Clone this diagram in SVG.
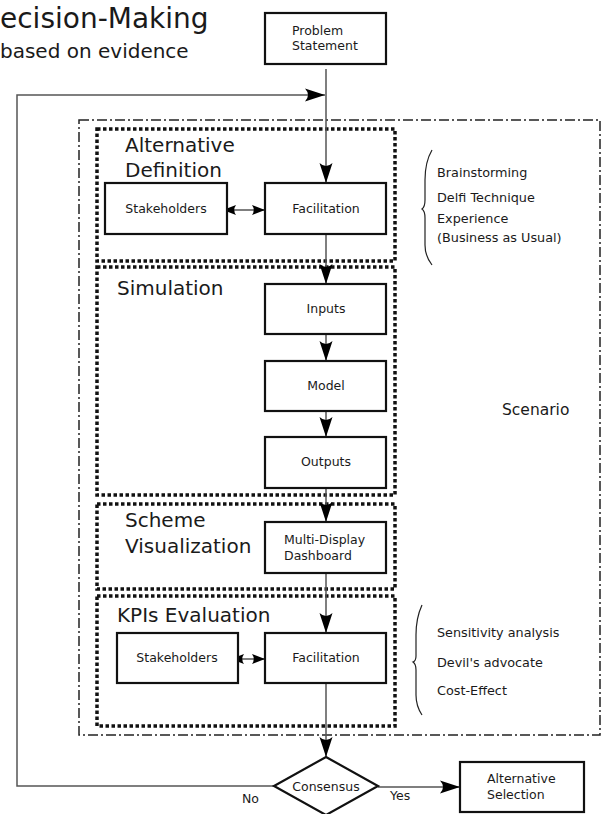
<svg xmlns="http://www.w3.org/2000/svg" width="601" height="814" viewBox="0 0 601 814">
<style>
text{font-family:"DejaVu Sans","Liberation Sans",sans-serif;fill:#1a1a1a}
.node rect,.node polygon{fill:#fff;stroke:#111;stroke-width:2.2}
.t{font-size:12.5px}
.c{text-anchor:middle}
.side{font-size:12.8px}
.grp{fill:none;stroke:#111;stroke-width:3.5;stroke-dasharray:3.5,2.5}
.lbl{font-size:20px}
.conn{fill:none;stroke:#555;stroke-width:1.5}
.brace{fill:none;stroke:#222;stroke-width:1.2}
</style>
<defs>
<marker id="ah" markerUnits="userSpaceOnUse" markerWidth="24" markerHeight="16" viewBox="-21 -8 22 16" refX="0" refY="0" orient="auto-start-reverse">
<path d="M0,0 L-20,-6.5 Q-14,0 -20,6.5 Z" fill="#000"/>
</marker>
<marker id="ahs" markerUnits="userSpaceOnUse" markerWidth="16" markerHeight="12" viewBox="-14 -6 15 12" refX="0" refY="0" orient="auto-start-reverse">
<path d="M0,0 L-13,-5 Q-9.5,0 -13,5 Z" fill="#000"/>
</marker>
</defs>

<g id="title">
<text x="0" y="28" font-size="28">ecision-Making</text>
<text x="0" y="58" font-size="20">based on evidence</text>
</g>

<g id="scenario">
<rect x="79" y="120" width="521" height="615" fill="none" stroke="#222" stroke-width="1.5" stroke-dasharray="10,3,2,3"/>
<text x="502" y="415" font-size="15.5">Scenario</text>
</g>

<g id="alternative-definition">
<rect class="grp" x="97" y="129" width="298" height="132"/>
<text class="lbl" x="125" y="152">Alternative</text>
<text class="lbl" x="125" y="177">Definition</text>
</g>
<g id="simulation">
<rect class="grp" x="97" y="267" width="298" height="228"/>
<text class="lbl" x="117" y="295">Simulation</text>
</g>
<g id="scheme-visualization">
<rect class="grp" x="97" y="504" width="298" height="85"/>
<text class="lbl" x="125" y="527">Scheme</text>
<text class="lbl" x="125" y="553">Visualization</text>
</g>
<g id="kpis-evaluation">
<rect class="grp" x="97" y="596" width="298" height="130"/>
<text class="lbl" x="117" y="622">KPIs Evaluation</text>
</g>

<g id="connectors">
<path class="conn" d="M326,69 V183" marker-end="url(#ah)"/>
<path class="conn" d="M326,234 V284" marker-end="url(#ah)"/>
<path class="conn" d="M326,334 V361" marker-end="url(#ah)"/>
<path class="conn" d="M326,411 V437" marker-end="url(#ah)"/>
<path class="conn" d="M326,488 V522" marker-end="url(#ah)"/>
<path class="conn" d="M326,573 V633" marker-end="url(#ah)"/>
<path class="conn" d="M326,683 V757" marker-end="url(#ah)"/>
<path class="conn" d="M378,787 H460" marker-end="url(#ah)"/>
<path class="conn" d="M274,786 H17 V95 H325" marker-end="url(#ah)"/>
<path class="conn" d="M223,210 H265" marker-start="url(#ahs)" marker-end="url(#ahs)"/>
<path class="conn" d="M231,659 H265" marker-start="url(#ahs)" marker-end="url(#ahs)"/>
</g>

<g id="problem-statement" class="node">
<rect x="265" y="13" width="121" height="51"/>
<text class="t" x="292" y="35">Problem</text>
<text class="t" x="292" y="50">Statement</text>
</g>
<g id="stakeholders-1" class="node">
<rect x="105" y="183" width="122" height="51"/>
<text class="t c" x="166" y="213">Stakeholders</text>
</g>
<g id="facilitation-1" class="node">
<rect x="265" y="183" width="121" height="51"/>
<text class="t c" x="326" y="213">Facilitation</text>
</g>
<g id="inputs" class="node">
<rect x="265" y="284" width="121" height="50"/>
<text class="t c" x="326" y="313">Inputs</text>
</g>
<g id="model" class="node">
<rect x="265" y="361" width="121" height="50"/>
<text class="t c" x="326" y="390">Model</text>
</g>
<g id="outputs" class="node">
<rect x="265" y="437" width="121" height="51"/>
<text class="t c" x="326" y="466">Outputs</text>
</g>
<g id="dashboard" class="node">
<rect x="265" y="522" width="121" height="51"/>
<text class="t" x="284" y="544">Multi-Display</text>
<text class="t" x="284" y="560">Dashboard</text>
</g>
<g id="stakeholders-2" class="node">
<rect x="117" y="633" width="121" height="50"/>
<text class="t c" x="177" y="662">Stakeholders</text>
</g>
<g id="facilitation-2" class="node">
<rect x="265" y="633" width="121" height="50"/>
<text class="t c" x="326" y="662">Facilitation</text>
</g>
<g id="consensus" class="node">
<polygon points="326,757 378,786 326,815 274,786"/>
<text class="t c" x="326" y="791">Consensus</text>
</g>
<g id="alternative-selection" class="node">
<rect x="460" y="762" width="124" height="50"/>
<text class="t" x="487" y="783">Alternative</text>
<text class="t" x="487" y="799">Selection</text>
</g>

<g id="edge-labels">
<text class="t" x="242" y="803">No</text>
<text class="t" x="390" y="800">Yes</text>
</g>

<g id="methods-1">
<path class="brace" d="M432,150 Q425,162 425,180 L425,200 Q425,207 422,209 Q425,211 425,218 L425,245 Q425,256 432,265"/>
<text class="side" x="437" y="177">Brainstorming</text>
<text class="side" x="437" y="202">Delfi Technique</text>
<text class="side" x="437" y="223">Experience</text>
<text class="side" x="437" y="242">(Business as Usual)</text>
</g>
<g id="methods-2">
<path class="brace" d="M422,605 Q416,618 416,635 L416,656 Q416,661 413,662 Q416,664 416,670 L416,695 Q416,706 422,715"/>
<text class="side" x="437" y="637">Sensitivity analysis</text>
<text class="side" x="437" y="667">Devil's advocate</text>
<text class="side" x="437" y="695">Cost-Effect</text>
</g>
</svg>
